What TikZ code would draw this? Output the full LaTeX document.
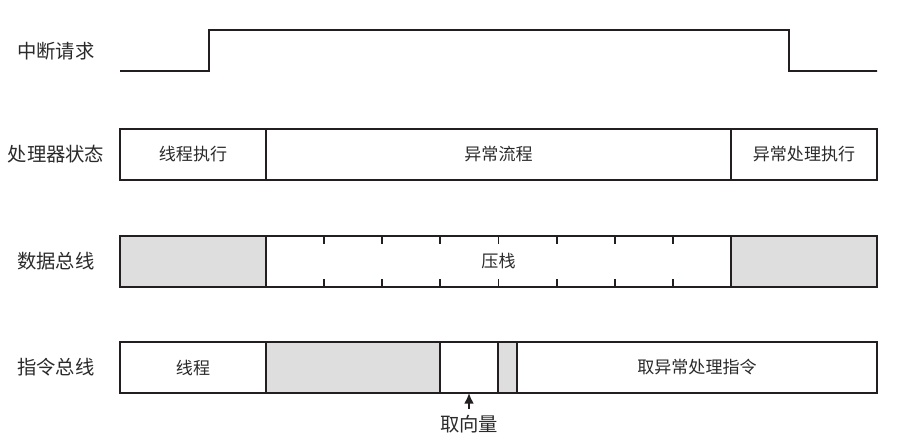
\documentclass[tikz,border=0pt]{standalone}
\usepackage{fontspec}
\setmainfont{Noto Sans CJK SC}
\usetikzlibrary{positioning, calc, arrows.meta}
\definecolor{lineDark}{HTML}{231F20}
\definecolor{busGrey}{HTML}{DEDEDE}
\definecolor{textDark}{HTML}{2A2A2A}

\begin{document}
\begin{tikzpicture}[auto, node distance = 0pt, > = {Latex[length = 6pt, width = 5.6pt]}, font = \fontsize{9.7}{11}\selectfont, text = textDark]
\tikzset{
  seg/.style = {draw = lineDark, line width = 1.1pt, rectangle, minimum height = 1.02cm, inner sep = 0pt, outer sep = 0pt},
  busy/.style = {seg, fill = busGrey},
  rowLabel/.style = {font = \fontsize{11}{13}\selectfont},
  signal/.style = {draw = lineDark, line width = 1.1pt},
}
\useasboundingbox (0,0) rectangle (18.06,-8.94);
% row labels
\node [rowLabel] (irqLabel) at (1.12,-1.02) {中断请求};
\node [rowLabel] (cpuLabel) at (1.12,-3.09) {处理器状态};
\node [rowLabel] (dataLabel) at (1.12,-5.23) {数据总线};
\node [rowLabel] (instrLabel) at (1.12,-7.35) {指令总线};
% interrupt request
\coordinate (irqStart) at (2.4,-1.42);
\coordinate (irqRise) at (4.18,-1.42);
\coordinate (irqFall) at (15.78,-0.6);
\coordinate (irqEnd) at (17.54,-1.42);
\draw [signal] (irqStart) -- (irqRise) -- ++(0,0.82) -- (irqFall) -- ++(0,-0.82) -- (irqEnd);
% processor state
\node [seg, minimum width = 2.92cm, anchor = west] (threadRun) at (2.4,-3.09) {线程执行};
\node [seg, minimum width = 9.3cm, right = of threadRun] (excFlow) {异常流程};
\node [seg, minimum width = 2.92cm, right = of excFlow] (handlerRun) {异常处理执行};
% data bus
\node [busy, minimum width = 2.92cm, anchor = west] (dataIdle) at (2.4,-5.23) {};
\node [seg, minimum width = 9.3cm, right = of dataIdle] (stackPush) {压栈};
\node [busy, minimum width = 2.92cm, right = of stackPush] (dataBusy) {};
\foreach \i in {1,...,7} {
  \draw [signal] ($(stackPush.north west)!\i/8!(stackPush.north east)$) -- ++(0,-0.16);
  \draw [signal] ($(stackPush.south west)!\i/8!(stackPush.south east)$) -- ++(0,0.16);
}
% instruction bus
\node [seg, minimum width = 2.92cm, anchor = west] (threadFetch) at (2.4,-7.35) {线程};
\node [busy, minimum width = 3.48cm, right = of threadFetch] (instrIdle) {};
\node [seg, minimum width = 1.16cm, right = of instrIdle] (fetchVec) {};
\node [busy, minimum width = 0.38cm, right = of fetchVec] (instrGap) {};
\node [seg, minimum width = 7.2cm, right = of instrGap] (handlerFetch) {取异常处理指令};
\node [rowLabel] (vecLabel) at (9.38,-8.48) {取向量};
\draw [->, signal] (vecLabel) -- (fetchVec);
\end{tikzpicture}
\end{document}
